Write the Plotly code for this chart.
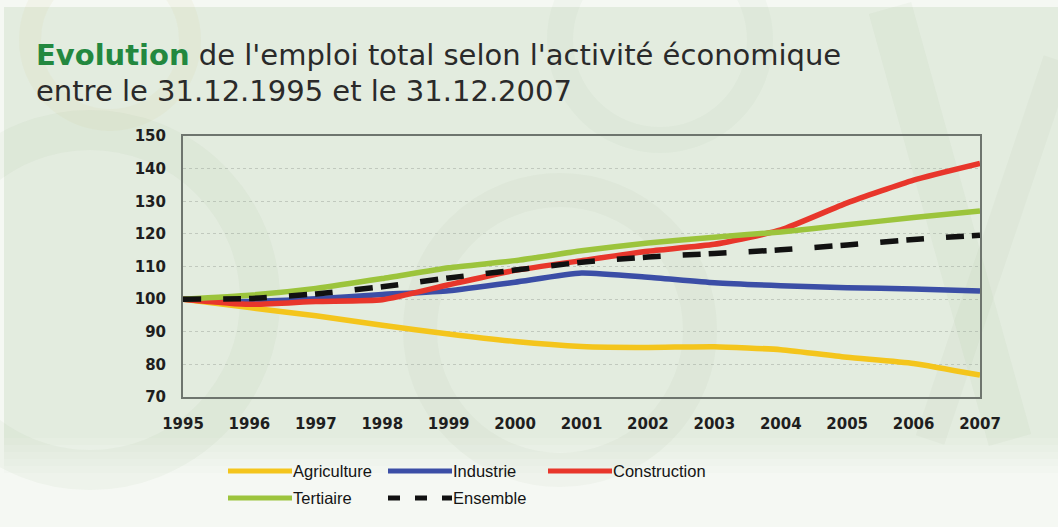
import plotly.graph_objects as go

# Index of total employment by economic activity (31.12.1995 = 100)
years = [1995, 1996, 1997, 1998, 1999, 2000, 2001, 2002, 2003, 2004, 2005, 2006, 2007]
agriculture = [100, 97.4, 94.9, 92.0, 89.3, 87.0, 85.5, 85.2, 85.4, 84.5, 82.2, 80.3, 76.7]
industrie = [100, 99.3, 100.1, 101.4, 102.6, 105.2, 108.0, 106.7, 105.0, 104.1, 103.5, 103.1, 102.5]
construction = [100, 98.4, 99.3, 99.8, 104.4, 108.8, 111.8, 114.7, 116.8, 121.2, 129.5, 136.5, 141.6]
tertiaire = [100, 101.2, 103.3, 106.3, 109.6, 111.8, 114.8, 117.2, 119.0, 120.6, 122.8, 125.0, 127.0]
ensemble = [100, 100.2, 101.6, 103.8, 106.5, 108.9, 111.3, 112.9, 114.0, 115.1, 116.6, 118.3, 119.6]

series_names = ["Agriculture", "Industrie", "Construction", "Tertiaire", "Ensemble"]
series_values = [agriculture, industrie, construction, tertiaire, ensemble]
series_colors = ["#f4c51c", "#3b4ea6", "#e8362b", "#9cc43c", "#111111"]
series_dashes = ["solid", "solid", "solid", "solid", "18px,22px,18px,8px"]
legend_dashes = ["solid", "solid", "solid", "solid", "12px,15px"]

y_ticks = [70, 80, 90, 100, 110, 120, 130, 140, 150]

W, H = 1058, 527
L, R, T, B = 183, 78, 136, 130
PW, PH = W - L - R, H - T - B


def px_x(px):
    return (px - L) / PW


def px_y(py):
    return (H - B - py) / PH


fig = go.Figure()

for name, vals, color, dash in zip(series_names, series_values, series_colors, series_dashes):
    fig.add_trace(go.Scatter(
        x=years, y=vals, name=name, mode="lines",
        line=dict(color=color, width=5.5, dash=dash, shape="spline", smoothing=0.5),
        showlegend=False,
    ))

shapes = []
# page background: mint panel fading to white near the bottom
shapes.append(dict(type="rect", xref="paper", yref="paper", layer="below",
                   x0=px_x(4), x1=px_x(W), y0=px_y(438), y1=px_y(7),
                   fillcolor="#e3ecdf", line=dict(width=0)))
fade = ["#e6eee2", "#e9f0e6", "#ecf2e9", "#eff4ed", "#f2f6f0"]
for i, c in enumerate(fade):
    shapes.append(dict(type="rect", xref="paper", yref="paper", layer="below",
                       x0=px_x(4), x1=px_x(W), y0=px_y(438 + 7 * (i + 1)), y1=px_y(438 + 7 * i),
                       fillcolor=c, line=dict(width=0)))
# faint decorative rings and strokes
deco = [
    (dict(x0=-80, y0=130, x1=260, y1=470), "rgba(110,150,90,0.05)", 40),
    (dict(x0=420, y0=190, x1=700, y1=470), "rgba(110,150,90,0.045)", 34),
    (dict(x0=30, y0=-40, x1=190, y1=120), "rgba(200,190,110,0.08)", 22),
    (dict(x0=560, y0=-60, x1=760, y1=140), "rgba(110,150,90,0.04)", 26),
]
for box, col, wd in deco:
    shapes.append(dict(type="circle", xref="paper", yref="paper", layer="below",
                       x0=px_x(box["x0"]), x1=px_x(box["x1"]),
                       y0=px_y(box["y1"]), y1=px_y(box["y0"]),
                       line=dict(color=col, width=wd)))
shapes.append(dict(type="line", xref="paper", yref="paper", layer="below",
                   x0=px_x(890), y0=px_y(8), x1=px_x(1010), y1=px_y(440),
                   line=dict(color="rgba(110,150,90,0.05)", width=44)))
shapes.append(dict(type="line", xref="paper", yref="paper", layer="below",
                   x0=px_x(1058), y0=px_y(60), x1=px_x(930), y1=px_y(440),
                   line=dict(color="rgba(110,150,90,0.045)", width=30)))

annotations = []
# title
annotations.append(dict(
    xref="paper", yref="paper", x=px_x(34), y=px_y(55), xanchor="left", yanchor="middle",
    text="<span style='color:#23883f'><b>Evolution</b></span> de l'emploi total selon l'activité économique",
    showarrow=False, font=dict(family="DejaVu Sans", size=29, color="#2a2a2a"),
))
annotations.append(dict(
    xref="paper", yref="paper", x=px_x(34), y=px_y(91), xanchor="left", yanchor="middle",
    text="entre le 31.12.1995 et le 31.12.2007",
    showarrow=False, font=dict(family="DejaVu Sans", size=29, color="#2a2a2a"),
))

# legend: three columns, two rows
col_x = [228, 388, 548]
row_y = [471, 498]
for i, (name, color, dash) in enumerate(zip(series_names, series_colors, legend_dashes)):
    cx = col_x[i % 3]
    ry = row_y[i // 3]
    shapes.append(dict(type="line", xref="paper", yref="paper",
                       x0=px_x(cx), x1=px_x(cx + 64), y0=px_y(ry), y1=px_y(ry),
                       line=dict(color=color, width=5, dash=dash)))
    annotations.append(dict(
        xref="paper", yref="paper", x=px_x(cx + 63), y=px_y(ry), xanchor="left", yanchor="middle",
        text=name, showarrow=False,
        font=dict(family="Liberation Sans", size=16.5, color="#141414"),
    ))

fig.update_layout(
    width=W, height=H,
    margin=dict(l=L, r=R, t=T, b=B),
    paper_bgcolor="#f5f8f3",
    plot_bgcolor="rgba(255,255,255,0.18)",
    shapes=shapes,
    annotations=annotations,
    showlegend=False,
    xaxis=dict(
        range=[1995, 2007], tickmode="array", tickvals=years, ticktext=[str(y) for y in years],
        showgrid=False, zeroline=False, ticks="",
        showline=True, mirror=True, linecolor="#6e756e", linewidth=2,
        tickfont=dict(family="DejaVu Sans", size=15, color="#1e1e1e", weight="bold"),
        ticklabelstandoff=12,
    ),
    yaxis=dict(
        range=[70, 150], tickmode="array", tickvals=y_ticks,
        showgrid=True, gridcolor="rgba(150,160,150,0.45)", griddash="dot", gridwidth=1,
        zeroline=False, ticks="",
        showline=True, mirror=True, linecolor="#6e756e", linewidth=2,
        tickfont=dict(family="DejaVu Sans", size=15, color="#1e1e1e", weight="bold"),
        ticklabelstandoff=12,
    ),
)

fig.write_html("out.html")
